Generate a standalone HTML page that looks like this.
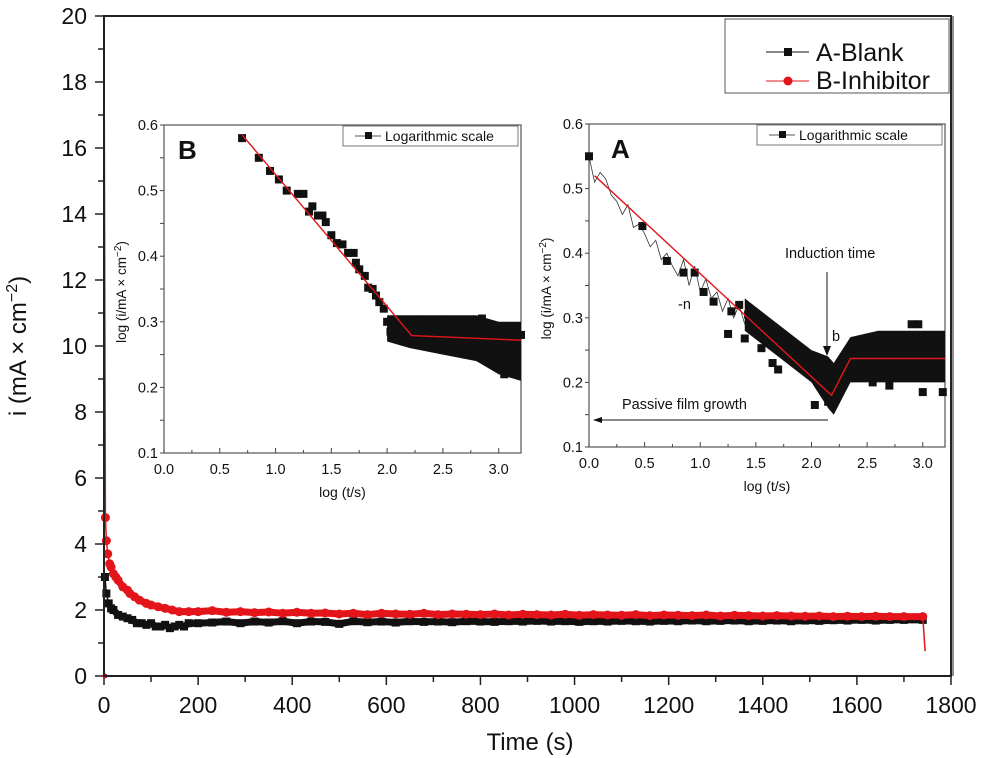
<!DOCTYPE html>
<html><head><meta charset="utf-8"><style>
body{margin:0;background:#fff}
svg{display:block;font-family:"Liberation Sans",sans-serif}
</style></head><body>
<svg id="c" width="983" height="758" viewBox="0 0 983 758"></svg>
<script>
// ---- main chart data ----
const blankT=[2,5,10,15,20,30,40,50,60,70,80,90,100,110,120,130,140,150,160,170,180,200,230,260,290,320,350,380,410,440,470,500,530,560,590,620,650,680,710,740,770,800,830,860,890,920,950,980,1010,1040,1070,1100,1130,1160,1190,1220,1250,1280,1310,1340,1370,1400,1430,1460,1490,1520,1550,1580,1610,1640,1670,1700,1740];
const blankI=[3.0,2.5,2.2,2.05,2.0,1.85,1.8,1.75,1.7,1.6,1.6,1.55,1.6,1.5,1.5,1.55,1.45,1.5,1.55,1.5,1.6,1.6,1.62,1.65,1.6,1.65,1.62,1.66,1.6,1.65,1.64,1.58,1.66,1.63,1.65,1.62,1.66,1.64,1.65,1.63,1.66,1.65,1.64,1.66,1.65,1.67,1.65,1.66,1.64,1.66,1.65,1.67,1.66,1.65,1.67,1.66,1.68,1.66,1.67,1.68,1.66,1.67,1.68,1.66,1.68,1.67,1.69,1.68,1.7,1.68,1.7,1.7,1.7];
const inhT=[0,3,5,8,12,15,20,25,30,40,50,55,65,75,90,100,115,130,145,160,180,200,230,260,290,320,350,380,410,440,470,500,530,560,590,620,650,680,710,740,770,800,830,860,890,920,950,980,1010,1040,1070,1100,1130,1160,1190,1220,1250,1280,1310,1340,1370,1400,1430,1460,1490,1520,1550,1580,1610,1640,1670,1700,1740,1745];
const inhI=[20,4.8,4.1,3.7,3.4,3.3,3.1,3.0,2.9,2.7,2.6,2.5,2.4,2.3,2.2,2.15,2.1,2.05,2.0,1.95,1.95,1.95,1.98,1.93,1.95,1.92,1.94,1.9,1.93,1.9,1.91,1.88,1.9,1.86,1.9,1.88,1.87,1.9,1.86,1.88,1.87,1.86,1.88,1.85,1.87,1.86,1.85,1.87,1.84,1.86,1.85,1.84,1.86,1.83,1.85,1.84,1.83,1.85,1.82,1.84,1.83,1.82,1.83,1.82,1.81,1.82,1.8,1.81,1.8,1.81,1.8,1.8,1.8,0.75];
const mainXTicks=[0,200,400,600,800,1000,1200,1400,1600,1800];
const mainYTicks=[0,2,4,6,8,10,12,14,16,18,20];
// ---- inset B data ----
const bX=[0.7,0.85,0.95,1.03,1.1,1.2,1.25,1.3,1.33,1.38,1.42,1.45,1.5,1.55,1.6,1.65,1.7,1.72,1.75,1.8,1.83,1.87,1.9,1.93,1.97,2.0,2.03,2.07,2.1,2.15,2.2,2.3,2.4,2.5,2.6,2.7,2.8,2.85,2.9,3.0,3.05,3.1,3.15,3.2];
const bY=[0.58,0.55,0.53,0.517,0.5,0.495,0.495,0.468,0.476,0.462,0.462,0.452,0.432,0.42,0.418,0.405,0.405,0.39,0.38,0.37,0.352,0.35,0.34,0.33,0.32,0.3,0.285,0.29,0.28,0.27,0.29,0.3,0.28,0.3,0.27,0.3,0.26,0.305,0.25,0.28,0.22,0.29,0.23,0.28];
const bBandX=[2.0,2.2,2.5,2.8,3.0,3.2];
const bBandHi=[0.31,0.31,0.31,0.31,0.30,0.30];
const bBandLo=[0.27,0.26,0.25,0.24,0.22,0.21];
const bFitX=[0.7,2.22,3.2];
const bFitY=[0.585,0.279,0.272];
// ---- inset A data ----
const aX=[0.0,0.48,0.7,0.85,0.95,1.03,1.12,1.25,1.28,1.35,1.4,1.43,1.55,1.58,1.65,1.68,1.7,2.03,2.15,2.55,2.7,2.9,2.96,3.0,3.18];
const aY=[0.55,0.442,0.388,0.37,0.37,0.34,0.325,0.275,0.31,0.32,0.268,0.305,0.253,0.29,0.23,0.275,0.22,0.165,0.17,0.2,0.195,0.29,0.29,0.185,0.185];
const aLineX=[0,0.05,0.1,0.15,0.2,0.25,0.3,0.35,0.4,0.45,0.5,0.55,0.6,0.65,0.7,0.75,0.8,0.85,0.9,0.95,1.0,1.05,1.1,1.15,1.2,1.25,1.3,1.35,1.4];
const aLineY=[0.55,0.51,0.525,0.515,0.49,0.48,0.46,0.475,0.44,0.445,0.43,0.41,0.42,0.39,0.4,0.38,0.365,0.39,0.35,0.38,0.34,0.36,0.33,0.34,0.31,0.33,0.3,0.32,0.29];
const aBandX=[1.4,1.7,2.0,2.15,2.2,2.35,2.6,3.0,3.2];
const aBandHi=[0.33,0.29,0.25,0.24,0.23,0.27,0.28,0.28,0.28];
const aBandLo=[0.28,0.24,0.2,0.16,0.15,0.2,0.2,0.2,0.2];
const aFitX=[0.05,2.18,2.35,3.2];
const aFitY=[0.52,0.18,0.237,0.237];
const insetXTicks=["0.0","0.5","1.0","1.5","2.0","2.5","3.0"];
const insetYTicks=["0.1","0.2","0.3","0.4","0.5","0.6"];

const svg=document.getElementById('c');
const NS='http://www.w3.org/2000/svg';
function mk(tag,attrs,parent){const e=document.createElementNS(NS,tag);for(const k in attrs)e.setAttribute(k,attrs[k]);(parent||svg).appendChild(e);return e;}
function txt(s,attrs,parent){const e=mk('text',attrs,parent);e.textContent=s;return e;}

// main axes
const mx=v=>104+v*(951-104)/1800;
const my=v=>676-v*(660/20);
const mainG=mk('g',{});


for(let v=0;v<=1800;v+=100){const big=v%200===0;mk('line',{x1:mx(v),x2:mx(v),y1:676,y2:676+(big?9:6),stroke:'#222','stroke-width':1.5},mainG);}
for(const v of mainXTicks){const t=txt(String(v),{x:mx(v),y:713,'font-size':23,'text-anchor':'middle',fill:'#111'},mainG);}
for(let v=0;v<=20;v++){const big=v%2===0;mk('line',{x1:104,x2:104-(big?9:6),y1:my(v),y2:my(v),stroke:'#222','stroke-width':1.5},mainG);}
for(const v of mainYTicks){const t=txt(String(v),{x:87,y:my(v)+8,'font-size':23,'text-anchor':'end',fill:'#111'},mainG);}
const xt=txt('Time (s)',{x:530,y:750,'font-size':24,'text-anchor':'middle',fill:'#111'},mainG);

const yt=mk('text',{x:0,y:0,'font-size':24,'text-anchor':'middle',fill:'#111',transform:'translate(26,346) rotate(-90)'},mainG);
yt.innerHTML='i (mA × cm<tspan dy="-9" font-size="16">−2</tspan><tspan dy="9">)</tspan>';


// series
function series(T,I,color,marker,name){
  const g=mk('g',{},mainG);
  
  
  mk('polyline',{points:T.map((t,i)=>mx(t)+','+my(I[i])).join(' '),fill:'none',stroke:color,'stroke-width':1.5},g);
  mk('polyline',{points:T.map((t,i)=>mx(t)+','+my(I[i])).filter((p,i)=>T[i]>=20&&I[i]>1).join(' '),fill:'none',stroke:color,'stroke-width':7},g);
  T.forEach((t,i)=>{if(I[i]>10||I[i]<1)return;
    if(marker==='sq')mk('rect',{x:mx(t)-4,y:my(I[i])-4,width:8,height:8,fill:color},g);
    else mk('circle',{cx:mx(t),cy:my(I[i]),r:4.5,fill:color},g);});
}
series(blankT,blankI,'#111','sq','series-blank');
series(inhT,inhI,'#e3141a','ci','series-inhibitor');
mk('circle',{cx:mx(2),cy:my(0),r:2.5,fill:'#e3141a'},mainG);

// legend
const lg=mk('g',{});

mk('rect',{x:725,y:19,width:224,height:74,fill:'#fff',stroke:'#555','stroke-width':1},lg);
mk('line',{x1:766,x2:809,y1:52,y2:52,stroke:'#111','stroke-width':1},lg);
mk('rect',{x:784,y:48,width:8,height:8,fill:'#111'},lg);
txt('A-Blank',{x:816,y:61,'font-size':25,fill:'#111'},lg);
mk('line',{x1:766,x2:809,y1:81,y2:81,stroke:'#e3141a','stroke-width':1},lg);
mk('circle',{cx:788,cy:81,r:4.5,fill:'#e3141a'},lg);
txt('B-Inhibitor',{x:816,y:89,'font-size':25,fill:'#111'},lg);

// inset helper
function inset(L,R,T,B,name,letter){
  const g=mk('g',{});
  
  const sx=v=>L+v*(R-L)/3.2, sy=v=>B-(v-0.1)*(B-T)/0.5;
  mk('rect',{x:L,y:T,width:R-L,height:B-T,fill:'none',stroke:'#555','stroke-width':1.2},g);
  for(let v=0;v<=3.2001;v+=0.25){const big=Math.abs(v*2-Math.round(v*2))<1e-6;mk('line',{x1:sx(v),x2:sx(v),y1:B,y2:B-(big?5:3),stroke:'#444'},g);}
  insetXTicks.forEach(s=>{const t=txt(s,{x:sx(+s),y:B+21,'font-size':14.5,'text-anchor':'middle',fill:'#111'},g);});
  for(let v=0.1;v<=0.6001;v+=0.05){mk('line',{x1:L,x2:L-4,y1:sy(v),y2:sy(v),stroke:'#444'},g);}
  insetYTicks.forEach(s=>{const t=txt(s,{x:L-6,y:sy(+s)+5,'font-size':14.5,'text-anchor':'end',fill:'#111'},g);});
  const xl=txt('log (t/s)',{x:(L+R)/2,y:B+44,'font-size':14,'text-anchor':'middle',fill:'#111'},g);
  
  const yl=mk('text',{x:0,y:0,'font-size':13.5,'text-anchor':'middle',fill:'#111',transform:`translate(${L-38},${(T+B)/2+3}) rotate(-90)`},g);
  yl.innerHTML='log (i/mA × cm<tspan dy="-5" font-size="10">−2</tspan><tspan dy="5">)</tspan>';
  
  const lt=txt(letter,{x:L+(letter==='A'?22:14),y:T+34,'font-size':26,'font-weight':'bold',fill:'#111'},g);
  
  const lx=letter==='A'?R-188:R-178;
  mk('rect',{x:lx,y:T+1,width:R-lx-3,height:20,fill:'#fff',stroke:'#777'},g);
  mk('line',{x1:lx+12,x2:lx+38,y1:T+11,y2:T+11,stroke:'#555'},g);
  mk('rect',{x:lx+22,y:T+7,width:7,height:7,fill:'#111'},g);
  txt('Logarithmic scale',{x:lx+42,y:T+16,'font-size':14,fill:'#111'},g);
  return {g,sx,sy};
}
function band(o,X,H,Lo,name){
  const pts=X.map((x,i)=>o.sx(x)+','+o.sy(H[i])).concat(X.map((x,i)=>o.sx(x)+','+o.sy(Lo[i])).reverse());
  const p=mk('polygon',{points:pts.join(' '),fill:'#111'},o.g);
  
}
function pts(o,X,Y,name){
  const g=mk('g',{},o.g);
  X.forEach((x,i)=>mk('rect',{x:o.sx(x)-4,y:o.sy(Y[i])-4,width:8,height:8,fill:'#111'},g));
}
function line(o,X,Y,color,w,name){
  const p=mk('polyline',{points:X.map((x,i)=>o.sx(x)+','+o.sy(Y[i])).join(' '),fill:'none',stroke:color,'stroke-width':w},o.g);
  
}
const ib=inset(164,521,125,453,'inset-b','B');
band(ib,bBandX,bBandHi,bBandLo,'inset-b-band');
pts(ib,bX,bY,'inset-b-points');
line(ib,bFitX,bFitY,'#e3141a',1.4,'inset-b-fit');

const ia=inset(589,945,124,447,'inset-a','A');
band(ia,aBandX,aBandHi,aBandLo,'inset-a-band');
line(ia,aLineX,aLineY,'#333',0.8,'inset-a-noise');
pts(ia,aX,aY,'inset-a-points');
line(ia,aFitX,aFitY,'#e3141a',1.4,'inset-a-fit');
const an=mk('g',{},ia.g);
txt('Induction time',{x:785,y:258,'font-size':14.5,fill:'#111'},an);
mk('line',{x1:827,y1:272,x2:827,y2:350,stroke:'#111','stroke-width':1},an);
mk('polygon',{points:'823,346 831,346 827,356',fill:'#111'},an);
txt('b',{x:832,y:341,'font-size':14.5,fill:'#111'},an);
txt('-n',{x:678,y:309,'font-size':14.5,fill:'#111'},an);
txt('Passive film growth',{x:622,y:409,'font-size':14.5,fill:'#111'},an);
mk('line',{x1:594,y1:420,x2:828,y2:420,stroke:'#111','stroke-width':1},an);
mk('polygon',{points:'593,420 602,417 602,423',fill:'#111'},an);

// frame drawn last
const frame=mk('rect',{x:104,y:16,width:847,height:660,fill:'none',stroke:'#222','stroke-width':2});


mk('line',{x1:953,y1:16,x2:953,y2:676,stroke:'#222','stroke-width':1});
</script>
</body></html>
